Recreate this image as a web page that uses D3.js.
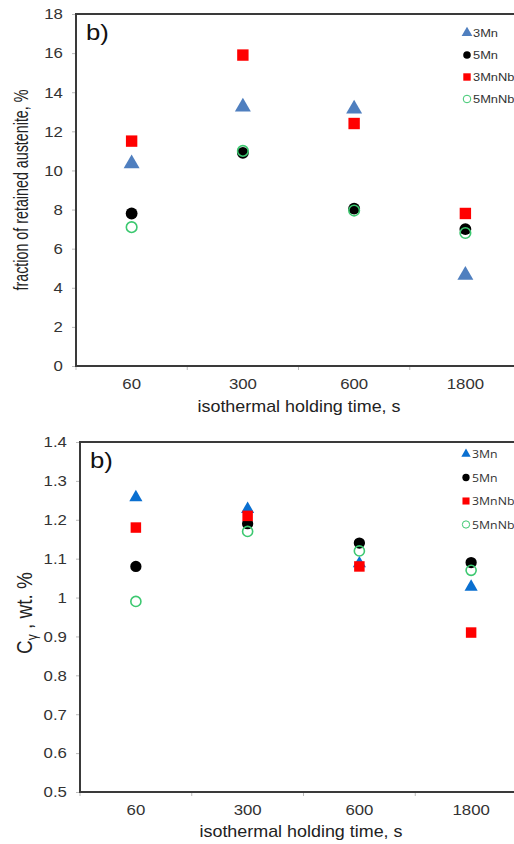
<!DOCTYPE html>
<html><head><meta charset="utf-8">
<script src="https://cdn.jsdelivr.net/npm/d3@7"></script>
<style>body{margin:0;background:#fff;}svg{display:block;}</style>
</head><body>
<script>
const categories = ["60", "300", "600", "1800"];
const seriesNames = ["3Mn", "5Mn", "3MnNb", "5MnNb"];
// top panel: fraction of retained austenite, %
const raTop3Mn   = [10.4, 13.3, 13.2, 4.7];
const raTop5Mn   = [7.8, 10.9, 8.05, 7.0];
const raTop3MnNb = [11.5, 15.9, 12.4, 7.8];
const raTop5MnNb = [7.1, 11.0, 7.95, 6.8];
const topTicks = [0, 2, 4, 6, 8, 10, 12, 14, 16, 18];
// bottom panel: C gamma, wt. %
const cg3Mn   = [1.26, 1.23, 1.09, 1.03];
const cg5Mn   = [1.08, 1.19, 1.14, 1.09];
const cg3MnNb = [1.18, 1.21, 1.08, 0.91];
const cg5MnNb = [0.99, 1.17, 1.12, 1.07];
const bottomTicks = [0.5, 0.6, 0.7, 0.8, 0.9, 1, 1.1, 1.2, 1.3, 1.4];

const W = 514, H = 844;
const svg = d3.select("body").append("svg").attr("width", W).attr("height", H);
const SX = 1.12; // horizontal stretch of text seen in the reference

function stretch(sel, ax, ay) {
  sel.attr("transform", `translate(${ax},${ay}) scale(${SX},1)`);
}

function panel(cfg) {
  const g = svg.append("g");
  const x = d3.scaleBand().domain(categories).range([cfg.left, cfg.right]);
  const y = d3.scaleLinear().domain(cfg.domain).range([cfg.bottom, cfg.top]);
  // y axis
  const ya = g.append("g").attr("transform", `translate(${cfg.left},0)`)
    .call(d3.axisLeft(y).tickValues(cfg.ticks).tickSize(4).tickPadding(8).tickFormat(cfg.fmt));
  ya.select(".domain").remove();
  ya.selectAll(".tick line").attr("stroke", "#bbb");
  ya.selectAll(".tick text").attr("fill", "#333").attr("font-family", cfg.font).attr("font-size", cfg.tickSize)
    .attr("transform", `translate(-12,0) scale(${SX},1)`).attr("x", -1);
  // x axis
  const xa = g.append("g").attr("transform", `translate(0,${cfg.bottom})`)
    .call(d3.axisBottom(x).tickSize(0).tickPadding(cfg.xPad));
  xa.select(".domain").remove();
  xa.selectAll(".tick text").attr("fill", "#333").attr("font-family", cfg.font).attr("font-size", cfg.xTickSize)
    .attr("transform", `scale(${SX},1)`);
  // band boundary ticks
  g.selectAll(".bt").data(categories).enter().append("line")
    .attr("x1", d => x(d)).attr("x2", d => x(d))
    .attr("y1", cfg.bottom).attr("y2", cfg.bottom + 4).attr("stroke", "#bbb");
  // frame lines
  g.append("line").attr("x1", cfg.left).attr("x2", W).attr("y1", cfg.top).attr("y2", cfg.top)
    .attr("stroke", "#3a3a3a").attr("stroke-width", 2);
  g.append("line").attr("x1", cfg.left).attr("x2", W).attr("y1", cfg.bottom).attr("y2", cfg.bottom)
    .attr("stroke", "#3a3a3a").attr("stroke-width", 2);
  g.append("line").attr("x1", cfg.left).attr("x2", cfg.left).attr("y1", cfg.top - 1).attr("y2", cfg.bottom + 1)
    .attr("stroke", "#3a3a3a").attr("stroke-width", 2);
  // labels
  g.append("text").text("b)")
    .attr("font-family", cfg.font).attr("font-size", 23).attr("fill", "#111")
    .call(stretch, cfg.left + 10, cfg.top + 26);
  g.append("text").attr("text-anchor", "middle").attr("font-family", cfg.font).attr("font-size", 16).attr("fill", "#222")
    .text("isothermal holding time, s")
    .call(stretch, (cfg.left + W) / 2 + 4, cfg.bottom + cfg.xTitleDy);
  cfg.yTitle(g, (cfg.top + cfg.bottom) / 2);
  // data marks
  const styles = [
    {shape: d3.symbolTriangle, size: cfg.triSize, fill: cfg.blue, stroke: "none", dy: 1},
    {shape: d3.symbolCircle, size: cfg.ciSize, fill: "#000", stroke: "none", dy: 0},
    {shape: d3.symbolSquare, size: cfg.sqSize, fill: "#f00", stroke: "none", dy: 0},
    {shape: d3.symbolCircle, size: cfg.ciSize * 0.8, fill: "none", stroke: "#3cc870", sw: 1.6, dy: 0}
  ];
  cfg.series.forEach((vals, i) => {
    const st = styles[i];
    g.selectAll(".s" + i).data(vals).enter().append("path")
      .attr("d", d3.symbol().type(st.shape).size(st.size)())
      .attr("transform", (v, j) => `translate(${x(categories[j]) + x.bandwidth() / 2},${y(v) + st.dy})`)
      .attr("fill", st.fill).attr("stroke", st.stroke).attr("stroke-width", st.sw || 0);
  });
  // legend
  const legSizes = [cfg.legTri, cfg.legCi, cfg.legSq, cfg.legCi];
  seriesNames.forEach((n, i) => {
    const st = styles[i];
    const ly = cfg.legY + i * cfg.legGap;
    g.append("path").attr("d", d3.symbol().type(st.shape).size(legSizes[i])()).attr("transform", `translate(${cfg.legX},${ly})`)
      .attr("fill", st.fill).attr("stroke", st.stroke).attr("stroke-width", st.sw ? 1 : 0);
    g.append("text").text(n)
      .attr("font-family", cfg.legFont).attr("font-size", cfg.legSize).attr("fill", "#333")
      .call(stretch, cfg.legX + 6, ly + 4);
  });
}

panel({
  left: 76, right: 521, top: 14, bottom: 366, domain: [0, 18], ticks: topTicks, fmt: d3.format("d"),
  font: "Liberation Sans, Arial, sans-serif", tickSize: 15, xTickSize: 15, xPad: 12, xTitleDy: 46,
  series: [raTop3Mn, raTop5Mn, raTop3MnNb, raTop5MnNb], blue: "#4f7fbf",
  triSize: 110, sqSize: 130, ciSize: 110,
  legX: 467, legY: 33, legGap: 22, legSq: 55, legTri: 50, legCi: 45,
  legFont: "Liberation Sans, Arial, sans-serif", legSize: 11.5,
  yTitle: (g, cy) => g.append("text").attr("transform", `translate(28,${cy}) rotate(-90) scale(1,1.35)`)
    .attr("text-anchor", "middle").attr("font-family", "Liberation Sans, Arial, sans-serif")
    .attr("font-size", 14.3).attr("fill", "#222").text("fraction of retained austenite, %")
});

panel({
  left: 80, right: 527, top: 442, bottom: 792, domain: [0.5, 1.4], ticks: bottomTicks,
  fmt: d => d3.format("")(+d.toFixed(1)),
  font: "Liberation Sans, Arial, sans-serif", tickSize: 15, xTickSize: 15, xPad: 12, xTitleDy: 45,
  series: [cg3Mn, cg5Mn, cg3MnNb, cg5MnNb], blue: "#0a6fd0",
  triSize: 75, sqSize: 110, ciSize: 100,
  legX: 466, legY: 454, legGap: 23.5, legSq: 50, legTri: 38, legCi: 42,
  legFont: "Open Sans, sans-serif", legSize: 11,
  yTitle: (g, cy) => {
    const t = g.append("text").attr("transform", `translate(32,${cy - 4}) rotate(-90) scale(1,1.17)`)
      .attr("text-anchor", "middle").attr("font-family", "Liberation Sans, Arial, sans-serif")
      .attr("font-size", 19).attr("fill", "#222");
    t.append("tspan").text("C");
    t.append("tspan").attr("font-size", 12).attr("dy", 4).text("γ");
    t.append("tspan").attr("dy", -4).text(" , wt. %");
  }
});
</script>
</body></html>
